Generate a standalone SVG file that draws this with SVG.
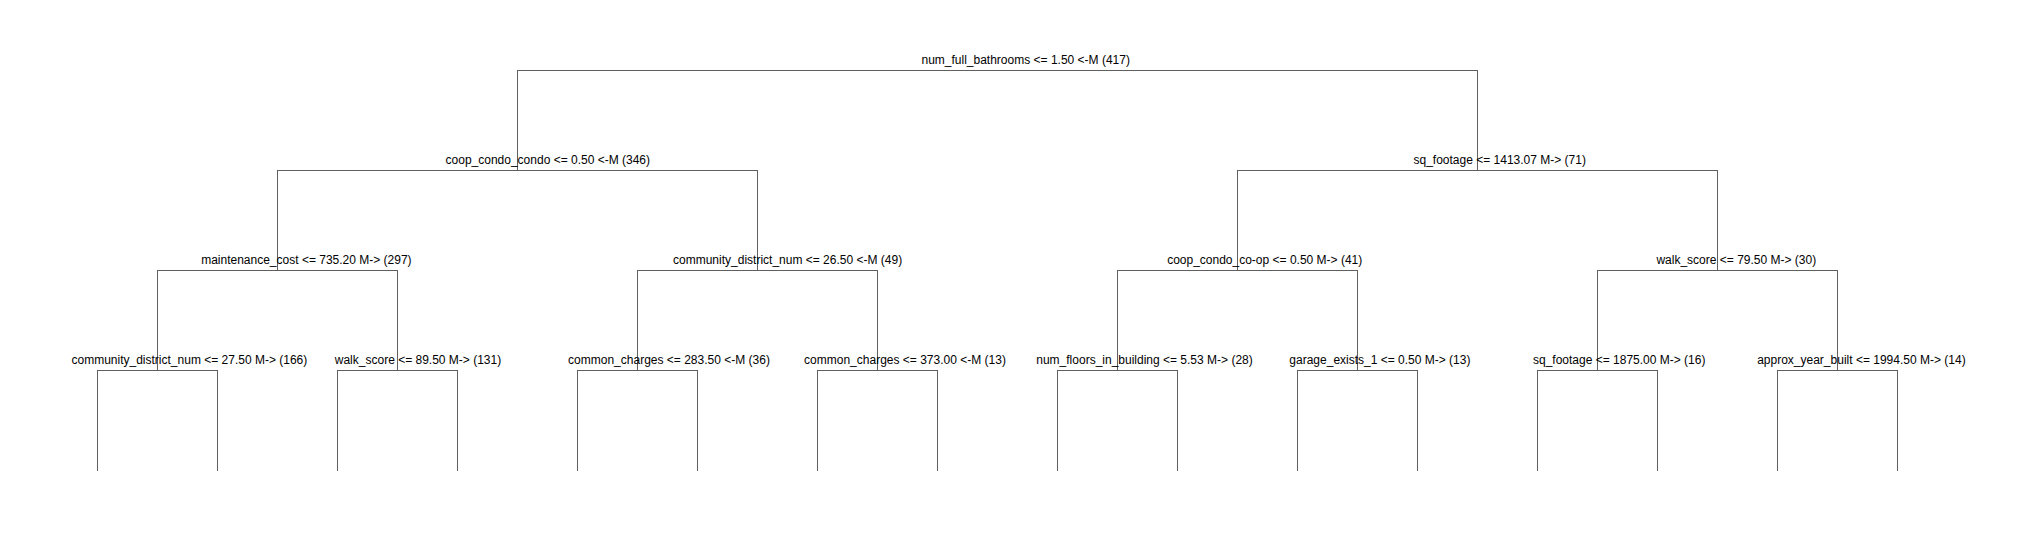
<svg xmlns="http://www.w3.org/2000/svg" width="2035" height="540" viewBox="0 0 2035 540">
<style>
.e{fill:none;stroke:#606060;stroke-width:1;shape-rendering:crispEdges}
.t{font-family:"Liberation Sans",Arial,sans-serif;font-size:12px;fill:#000;text-anchor:middle}
</style>
<rect width="2035" height="540" fill="#fff"/>
<g id="connectors">
<path class="e" d="M517.5,170.5V70.5H1477.5V170.5"/>
<path class="e" d="M277.5,270.5V170.5H757.5V270.5"/>
<path class="e" d="M1237.5,270.5V170.5H1717.5V270.5"/>
<path class="e" d="M157.5,370.5V270.5H397.5V370.5"/>
<path class="e" d="M637.5,370.5V270.5H877.5V370.5"/>
<path class="e" d="M1117.5,370.5V270.5H1357.5V370.5"/>
<path class="e" d="M1597.5,370.5V270.5H1837.5V370.5"/>
<path class="e" d="M97.5,470.5V370.5H217.5V470.5"/>
<path class="e" d="M337.5,470.5V370.5H457.5V470.5"/>
<path class="e" d="M577.5,470.5V370.5H697.5V470.5"/>
<path class="e" d="M817.5,470.5V370.5H937.5V470.5"/>
<path class="e" d="M1057.5,470.5V370.5H1177.5V470.5"/>
<path class="e" d="M1297.5,470.5V370.5H1417.5V470.5"/>
<path class="e" d="M1537.5,470.5V370.5H1657.5V470.5"/>
<path class="e" d="M1777.5,470.5V370.5H1897.5V470.5"/>
</g>
<g id="n1"><text class="t" x="1025.7" y="63.5">num_full_bathrooms &lt;= 1.50 &lt;-M (417)</text></g>
<g id="n2"><text class="t" x="547.8" y="164">coop_condo_condo &lt;= 0.50 &lt;-M (346)</text></g>
<g id="n3"><text class="t" x="1499.7" y="164">sq_footage &lt;= 1413.07 M-&gt; (71)</text></g>
<g id="n4"><text class="t" x="306.4" y="264">maintenance_cost &lt;= 735.20 M-&gt; (297)</text></g>
<g id="n5"><text class="t" x="787.6" y="264">community_district_num &lt;= 26.50 &lt;-M (49)</text></g>
<g id="n6"><text class="t" x="1264.7" y="264">coop_condo_co-op &lt;= 0.50 M-&gt; (41)</text></g>
<g id="n7"><text class="t" x="1736.3" y="264">walk_score &lt;= 79.50 M-&gt; (30)</text></g>
<g id="n8"><text class="t" x="189.4" y="364">community_district_num &lt;= 27.50 M-&gt; (166)</text></g>
<g id="n9"><text class="t" x="418" y="364">walk_score &lt;= 89.50 M-&gt; (131)</text></g>
<g id="n10"><text class="t" x="669" y="364">common_charges &lt;= 283.50 &lt;-M (36)</text></g>
<g id="n11"><text class="t" x="905" y="364">common_charges &lt;= 373.00 &lt;-M (13)</text></g>
<g id="n12"><text class="t" x="1144.5" y="364">num_floors_in_building &lt;= 5.53 M-&gt; (28)</text></g>
<g id="n13"><text class="t" x="1379.9" y="364">garage_exists_1 &lt;= 0.50 M-&gt; (13)</text></g>
<g id="n14"><text class="t" x="1619.2" y="364">sq_footage &lt;= 1875.00 M-&gt; (16)</text></g>
<g id="n15"><text class="t" x="1861.4" y="364">approx_year_built &lt;= 1994.50 M-&gt; (14)</text></g>
</svg>
